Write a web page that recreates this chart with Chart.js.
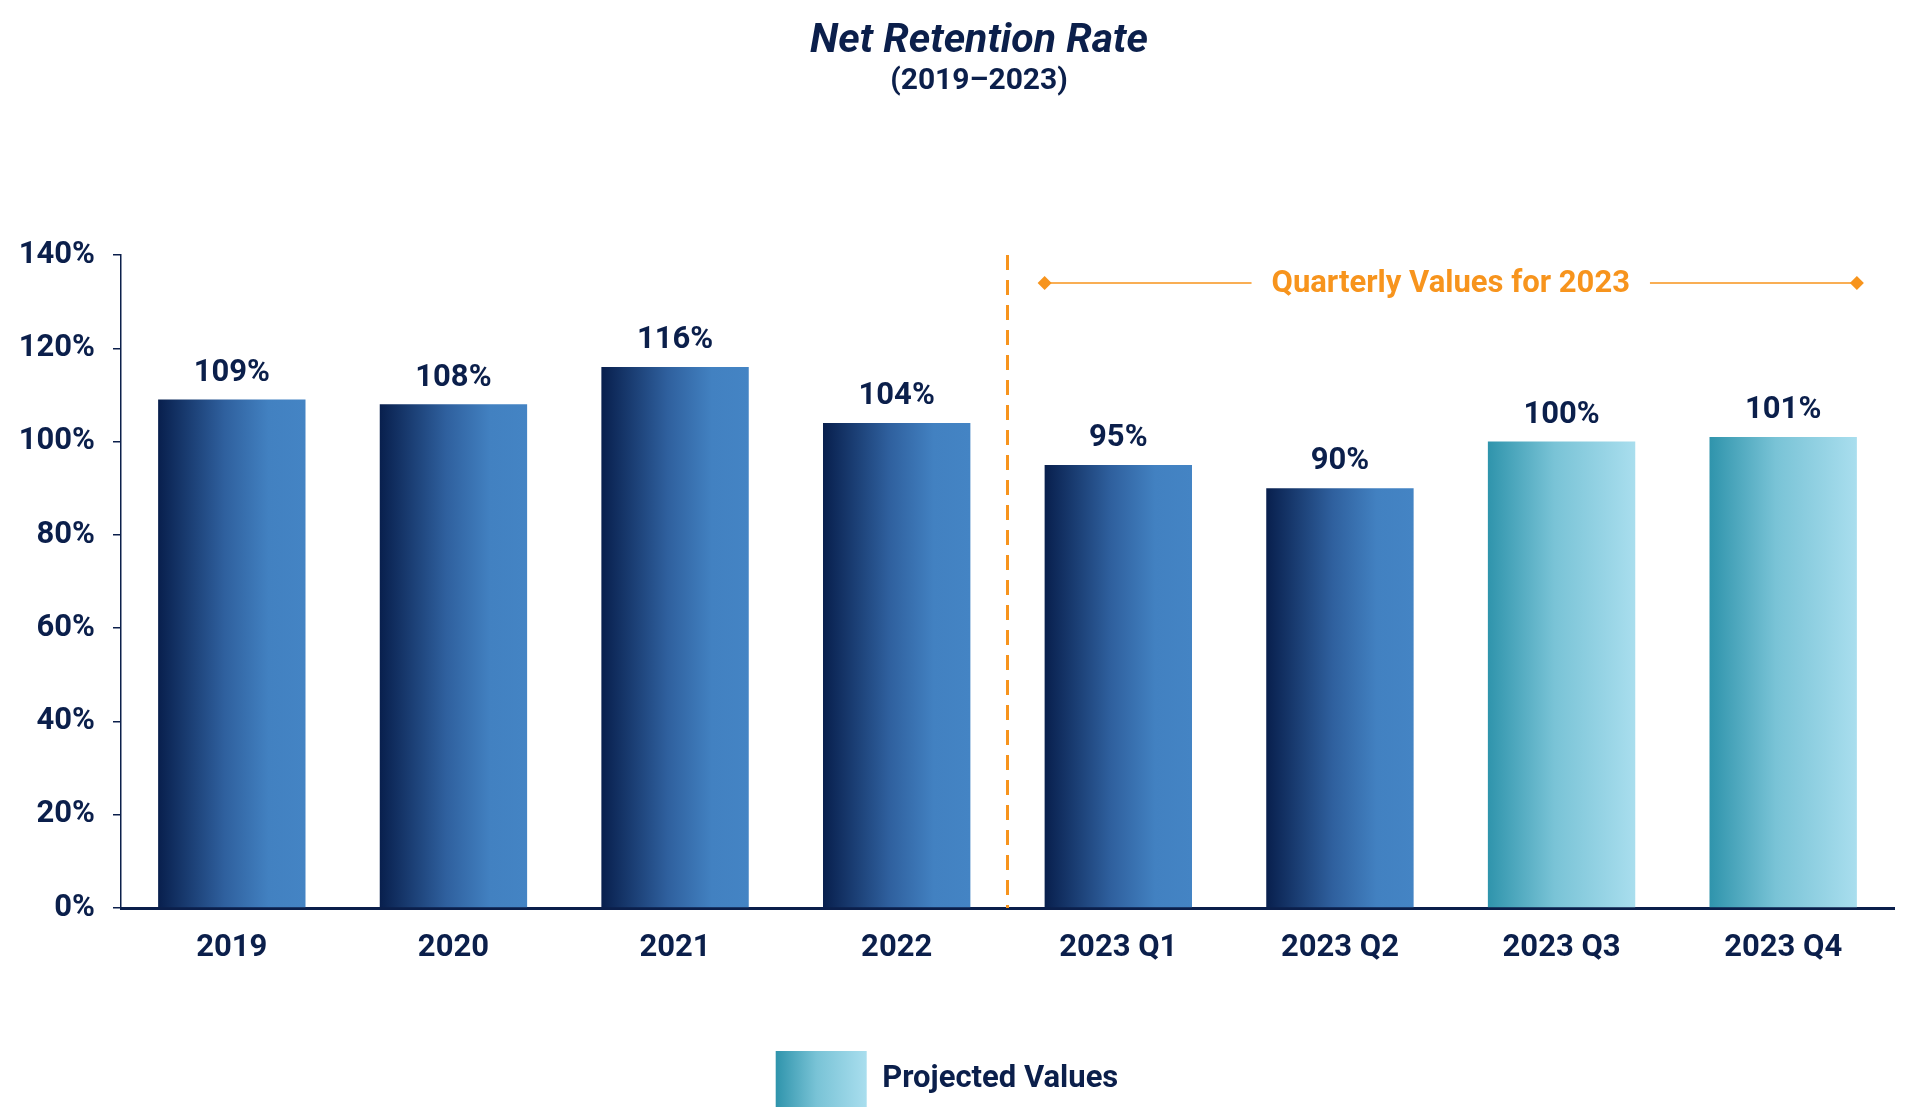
<!DOCTYPE html>
<html>
<head>
<meta charset="utf-8">
<title>Net Retention Rate</title>
<script src="https://cdn.jsdelivr.net/npm/chart.js@4.4.1/dist/chart.umd.min.js"></script>
<style>
  html, body { margin: 0; padding: 0; background: #fff; }
  .chart_wrap { width: 1920px; height: 1117px; position: relative; }
</style>
</head>
<body>
<div class="chart_wrap"><canvas id="nrr-chart"></canvas></div>
<script>
const categories = ["2019", "2020", "2021", "2022", "2023 Q1", "2023 Q2", "2023 Q3", "2023 Q4"];
const retention = [109, 108, 116, 104, 95, 90, 100, 101];
const projected = [false, false, false, false, false, false, true, true];
const yTicks = [0, 20, 40, 60, 80, 100, 120, 140];
const quarterLabel = "Quarterly Values for 2023";
const quarterLevel = 134;

const navy = "#0b1f4b";
const orange = "#f7941d";
const font = "Roboto";
const titleShift = 32; // title block sits a little right of the page centre

function barGradient(ctx, left, right, isProjected) {
  const g = ctx.createLinearGradient(left, 0, right, 0);
  if (isProjected) {
    g.addColorStop(0, "#2f94ac");
    g.addColorStop(0.45, "#79c3d6");
    g.addColorStop(1, "#a9deee");
  } else {
    g.addColorStop(0, "#081f4d");
    g.addColorStop(0.45, "#2f609e");
    g.addColorStop(0.75, "#4281c1");
    g.addColorStop(1, "#4484c4");
  }
  return g;
}

// nudge title + subtitle boxes to the right
const titleOffset = {
  id: "titleOffset",
  afterLayout(chart) {
    chart.boxes.forEach((box) => {
      if (box.position === "top" && box.options && box.options.text) {
        box.left += titleShift * 2;
      }
    });
  },
};

// gradient fill per bar, set once the bars have their positions
const barFill = {
  id: "barFill",
  beforeDatasetsDraw(chart) {
    const meta = chart.getDatasetMeta(0);
    meta.data.forEach((bar, i) => {
      const left = bar.x - bar.width / 2;
      bar.options.backgroundColor = barGradient(chart.ctx, left, left + bar.width, projected[i]);
    });
  },
};

// value labels above the bars
const valueLabels = {
  id: "valueLabels",
  afterDatasetsDraw(chart) {
    const ctx = chart.ctx;
    const meta = chart.getDatasetMeta(0);
    ctx.save();
    ctx.font = "bold 31px " + font;
    ctx.fillStyle = navy;
    ctx.textAlign = "center";
    ctx.textBaseline = "bottom";
    meta.data.forEach((bar, i) => {
      ctx.fillText(retention[i] + "%", bar.x, bar.y - 11);
    });
    ctx.restore();
  },
};

// dashed divider + quarterly bracket
const quarterMarker = {
  id: "quarterMarker",
  afterDatasetsDraw(chart) {
    const ctx = chart.ctx;
    const x = chart.scales.x;
    const y = chart.scales.y;
    const area = chart.chartArea;
    const meta = chart.getDatasetMeta(0);
    const divX = (x.getPixelForTick(3) + x.getPixelForTick(4)) / 2;

    ctx.save();
    ctx.strokeStyle = orange;
    ctx.lineWidth = 3;
    ctx.setLineDash([15, 10]);
    ctx.beginPath();
    ctx.moveTo(divX, area.top);
    ctx.lineTo(divX, area.bottom);
    ctx.stroke();
    ctx.setLineDash([]);

    const first = meta.data[4];
    const last = meta.data[7];
    const x1 = first.x - first.width / 2;
    const x2 = last.x + last.width / 2;
    const ly = y.getPixelForValue(quarterLevel);
    const mid = (x1 + x2) / 2;

    ctx.font = "bold 31px " + font;
    const tw = ctx.measureText(quarterLabel).width;
    ctx.lineWidth = 1.5;
    ctx.beginPath();
    ctx.moveTo(x1, ly);
    ctx.lineTo(mid - tw / 2 - 20, ly);
    ctx.moveTo(mid + tw / 2 + 20, ly);
    ctx.lineTo(x2, ly);
    ctx.stroke();

    ctx.fillStyle = orange;
    [x1, x2].forEach((dx) => {
      ctx.beginPath();
      ctx.moveTo(dx, ly - 7);
      ctx.lineTo(dx + 7, ly);
      ctx.lineTo(dx, ly + 7);
      ctx.lineTo(dx - 7, ly);
      ctx.closePath();
      ctx.fill();
    });

    ctx.textAlign = "center";
    ctx.textBaseline = "middle";
    ctx.fillText(quarterLabel, mid, ly + 1);
    ctx.restore();
  },
};

// paint the legend swatch with the projected gradient
const legendGradient = {
  id: "legendGradient",
  beforeDraw(chart) {
    const lg = chart.legend;
    if (!lg || !lg.legendHitBoxes || !lg.legendHitBoxes.length) return;
    const box = lg.legendHitBoxes[0];
    const w = lg.options.labels.boxWidth;
    lg.legendItems[0].fillStyle = barGradient(chart.ctx, box.left, box.left + w, true);
  },
};

new Chart(document.getElementById("nrr-chart"), {
  type: "bar",
  data: {
    labels: categories,
    datasets: [
      {
        label: "Net Retention Rate",
        data: retention,
        // scriptable so every bar keeps its own options object
        backgroundColor: (c) => (projected[c.dataIndex] ? "#79c3d6" : "#4484c4"),
        borderWidth: 0,
        categoryPercentage: 1,
        barPercentage: 0.665,
      },
    ],
  },
  options: {
    responsive: true,
    maintainAspectRatio: false,
    animation: false,
    devicePixelRatio: 1,
    layout: { padding: { left: 0, right: 26, top: 0, bottom: 0 } },
    plugins: {
      title: {
        display: true,
        text: "Net Retention Rate",
        color: navy,
        font: { family: font, size: 41, weight: "bold", style: "italic", lineHeight: 1 },
        padding: { top: 21, bottom: 0 },
      },
      subtitle: {
        display: true,
        text: "(2019\u20132023)",
        color: navy,
        font: { family: font, size: 30, weight: "bold", lineHeight: 1 },
        padding: { top: 4, bottom: 159 },
      },
      legend: {
        display: true,
        position: "bottom",
        labels: {
          boxWidth: 91,
          boxHeight: 56,
          padding: 10,
          color: navy,
          font: { family: font, size: 31, weight: "bold" },
          generateLabels: () => [
            { text: "Projected Values", fillStyle: "#79c3d6", fontColor: navy, strokeStyle: "transparent", lineWidth: 0, hidden: false, datasetIndex: 0 },
          ],
        },
        onClick: () => {},
      },
      tooltip: { enabled: false },
    },
    scales: {
      x: {
        grid: { display: false },
        border: { display: true, color: navy, width: 3 },
        ticks: {
          color: navy,
          padding: 14,
          font: { family: font, size: 31, weight: "bold" },
        },
        afterFit: (scale) => {
          scale.height = 133;
        },
      },
      y: {
        min: 0,
        max: 140,
        afterBuildTicks: (scale) => {
          scale.ticks = yTicks.map((v) => ({ value: v }));
        },
        afterFit: (scale) => {
          scale.width = 121;
        },
        grid: {
          display: true,
          drawOnChartArea: false,
          drawTicks: true,
          tickLength: 8,
          color: navy,
          lineWidth: 1.5,
        },
        border: { display: true, color: navy, width: 1.5 },
        ticks: {
          color: navy,
          padding: 18,
          font: { family: font, size: 31, weight: "bold" },
          callback: (v) => v + "%",
        },
      },
    },
  },
  plugins: [titleOffset, barFill, valueLabels, quarterMarker, legendGradient],
});
</script>
</body>
</html>
